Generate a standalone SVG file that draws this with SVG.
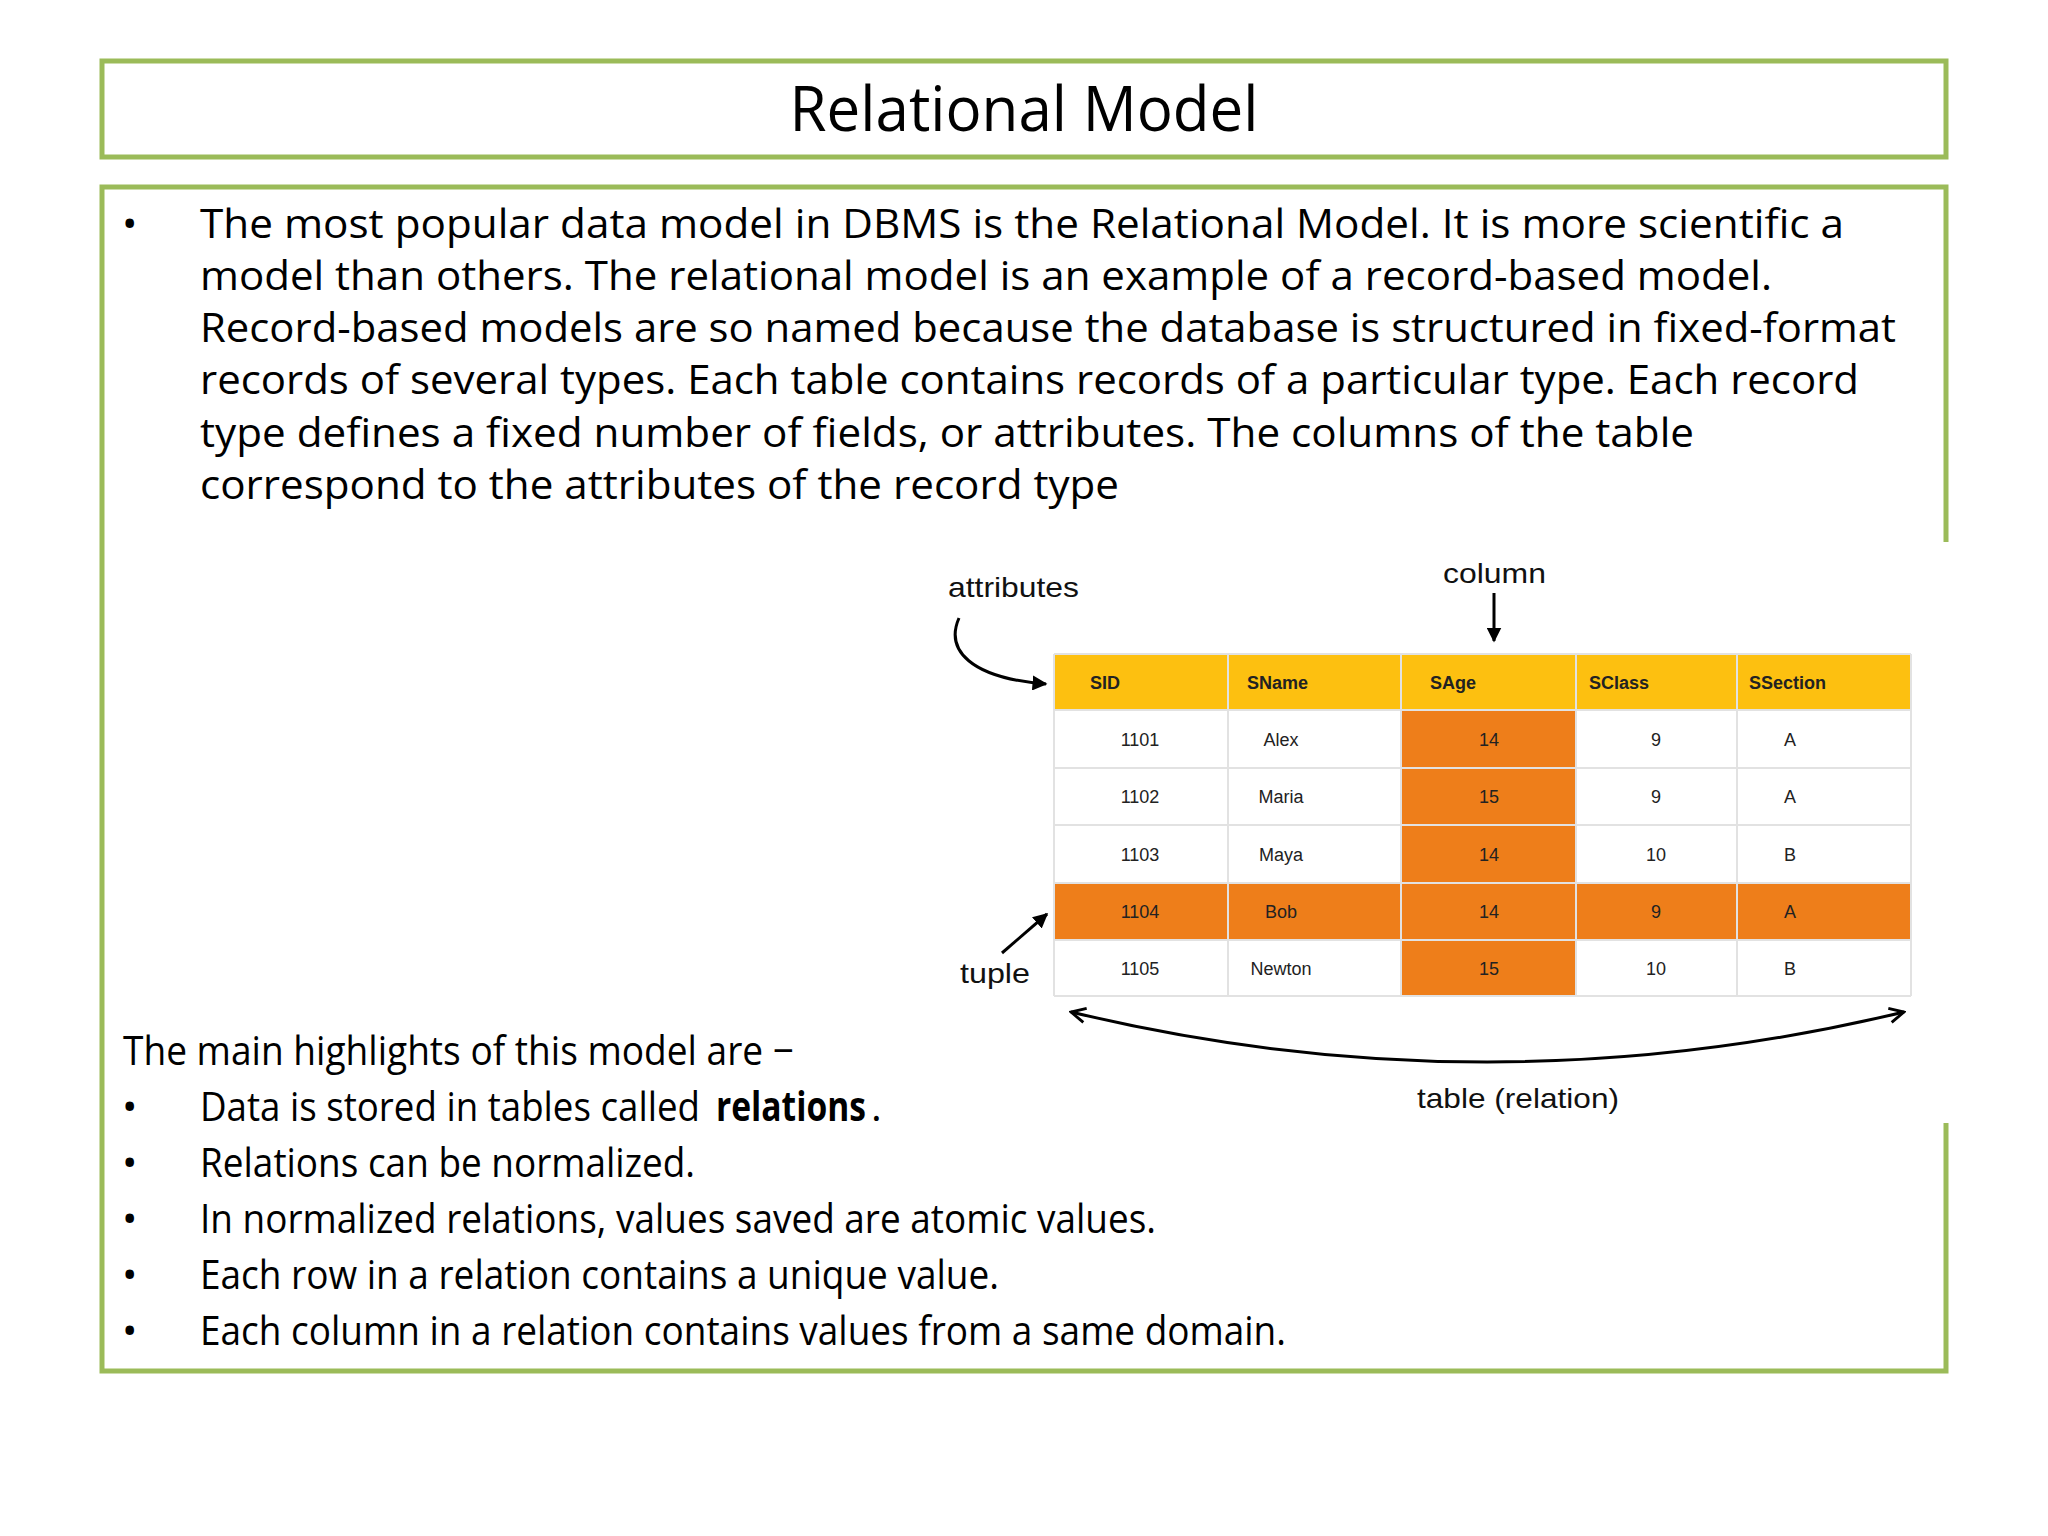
<svg xmlns="http://www.w3.org/2000/svg" width="2048" height="1536" viewBox="0 0 2048 1536">
<style>
.frame{fill:none;stroke:#9BBB59;stroke-width:5}
.t{font-family:"Open Sans","Noto Sans",sans-serif;fill:#000}
.b{font-size:41px}
.h{font-family:"Liberation Sans",Arial,sans-serif;font-size:18px;font-weight:bold;fill:#222}
.d{font-family:"Liberation Sans",Arial,sans-serif;font-size:18px;fill:#222;text-anchor:middle}
.l{font-family:"Liberation Sans",Arial,sans-serif;font-size:28px;fill:#111}
.grid{stroke:#e2e2e2;stroke-width:2}
.arr{fill:none;stroke:#000;stroke-width:3}
</style>
<defs>
<marker id="ah" viewBox="0 0 10 10" refX="9" refY="5" markerWidth="5" markerHeight="5" orient="auto-start-reverse"><path d="M0,0 L10,5 L0,10 z" fill="#000"/></marker>
<marker id="oh" viewBox="0 0 10 10" refX="9" refY="5" markerWidth="6" markerHeight="6" orient="auto-start-reverse"><path d="M1,1 L9,5 L1,9" fill="none" stroke="#000" stroke-width="1.6"/></marker>
</defs>
<rect width="2048" height="1536" fill="#fff"/>
<g id="title">
<rect class="frame" x="102" y="61" width="1844" height="96"/>
<text class="t" x="1024" y="131" font-size="62" text-anchor="middle" textLength="469" lengthAdjust="spacingAndGlyphs">Relational Model</text>
</g>
<g id="body">
<path class="frame" d="M1946,542 L1946,187 L102,187 L102,1371 L1946,1371 L1946,1123"/>
<text class="t b" x="122" y="238">•</text>
<text class="t b" x="200" y="238" textLength="1644" lengthAdjust="spacingAndGlyphs">The most popular data model in DBMS is the Relational Model. It is more scientific a</text>
<text class="t b" x="200" y="290" textLength="1572" lengthAdjust="spacingAndGlyphs">model than others. The relational model is an example of a record-based model.</text>
<text class="t b" x="200" y="342" textLength="1696" lengthAdjust="spacingAndGlyphs">Record-based models are so named because the database is structured in fixed-format</text>
<text class="t b" x="200" y="394" textLength="1659" lengthAdjust="spacingAndGlyphs">records of several types. Each table contains records of a particular type. Each record</text>
<text class="t b" x="200" y="447" textLength="1494" lengthAdjust="spacingAndGlyphs">type defines a fixed number of fields, or attributes. The columns of the table</text>
<text class="t b" x="200" y="499" textLength="919" lengthAdjust="spacingAndGlyphs">correspond to the attributes of the record type</text>
<text class="t b" x="123" y="1065" textLength="671" lengthAdjust="spacingAndGlyphs">The main highlights of this model are −</text>
<text class="t b" x="122" y="1121">•</text>
<text class="t b" x="200" y="1121" textLength="500" lengthAdjust="spacingAndGlyphs">Data is stored in tables called</text>
<text class="t b" x="716" y="1121" font-weight="bold" textLength="150" lengthAdjust="spacingAndGlyphs">relations</text>
<text class="t b" x="871" y="1121">.</text>
<text class="t b" x="122" y="1177">•</text>
<text class="t b" x="200" y="1177" textLength="495" lengthAdjust="spacingAndGlyphs">Relations can be normalized.</text>
<text class="t b" x="122" y="1233">•</text>
<text class="t b" x="200" y="1233" textLength="956" lengthAdjust="spacingAndGlyphs">In normalized relations, values saved are atomic values.</text>
<text class="t b" x="122" y="1289">•</text>
<text class="t b" x="200" y="1289" textLength="799" lengthAdjust="spacingAndGlyphs">Each row in a relation contains a unique value.</text>
<text class="t b" x="122" y="1345">•</text>
<text class="t b" x="200" y="1345" textLength="1086" lengthAdjust="spacingAndGlyphs">Each column in a relation contains values from a same domain.</text>
</g>
<g id="table">
<rect x="1054" y="654" width="857" height="56" fill="#FDC010"/>
<rect x="1054" y="710" width="857" height="286" fill="#fff"/>
<rect x="1401" y="710" width="175" height="286" fill="#EE7E1A"/>
<rect x="1054" y="883" width="857" height="57" fill="#EE7E1A"/>
<g class="grid">
<line x1="1054" y1="654" x2="1911" y2="654"/><line x1="1054" y1="710" x2="1911" y2="710"/>
<line x1="1054" y1="768" x2="1911" y2="768"/><line x1="1054" y1="825" x2="1911" y2="825"/>
<line x1="1054" y1="883" x2="1911" y2="883"/><line x1="1054" y1="940" x2="1911" y2="940"/>
<line x1="1054" y1="996" x2="1911" y2="996"/>
<line x1="1054" y1="654" x2="1054" y2="996"/><line x1="1228" y1="654" x2="1228" y2="996"/>
<line x1="1401" y1="654" x2="1401" y2="996"/><line x1="1576" y1="654" x2="1576" y2="996"/>
<line x1="1737" y1="654" x2="1737" y2="996"/><line x1="1911" y1="654" x2="1911" y2="996"/>
</g>
<text class="h" x="1090" y="689">SID</text><text class="h" x="1247" y="689">SName</text>
<text class="h" x="1430" y="689">SAge</text><text class="h" x="1589" y="689">SClass</text>
<text class="h" x="1749" y="689">SSection</text>
<text class="d" x="1140" y="746">1101</text><text class="d" x="1281" y="746">Alex</text><text class="d" x="1489" y="746">14</text><text class="d" x="1656" y="746">9</text><text class="d" x="1790" y="746">A</text>
<text class="d" x="1140" y="803">1102</text><text class="d" x="1281" y="803">Maria</text><text class="d" x="1489" y="803">15</text><text class="d" x="1656" y="803">9</text><text class="d" x="1790" y="803">A</text>
<text class="d" x="1140" y="861">1103</text><text class="d" x="1281" y="861">Maya</text><text class="d" x="1489" y="861">14</text><text class="d" x="1656" y="861">10</text><text class="d" x="1790" y="861">B</text>
<text class="d" x="1140" y="918">1104</text><text class="d" x="1281" y="918">Bob</text><text class="d" x="1489" y="918">14</text><text class="d" x="1656" y="918">9</text><text class="d" x="1790" y="918">A</text>
<text class="d" x="1140" y="975">1105</text><text class="d" x="1281" y="975">Newton</text><text class="d" x="1489" y="975">15</text><text class="d" x="1656" y="975">10</text><text class="d" x="1790" y="975">B</text>
</g>
<g id="labels">
<text class="l" x="948" y="597" textLength="131" lengthAdjust="spacingAndGlyphs">attributes</text>
<text class="l" x="1443" y="583" textLength="103" lengthAdjust="spacingAndGlyphs">column</text>
<text class="l" x="960" y="983" textLength="70" lengthAdjust="spacingAndGlyphs">tuple</text>
<text class="l" x="1417" y="1108" textLength="202" lengthAdjust="spacingAndGlyphs">table (relation)</text>
</g>
<g id="connectors">
<path class="arr" d="M959,618 C945,650 970,678 1046,684" marker-end="url(#ah)"/>
<path class="arr" d="M1494,593 L1494,641" marker-end="url(#ah)"/>
<path class="arr" d="M1002,953 L1047,914" marker-end="url(#ah)"/>
<path class="arr" d="M1071,1012 Q1487,1112 1904,1012" marker-start="url(#oh)" marker-end="url(#oh)"/>
</g>
</svg>
